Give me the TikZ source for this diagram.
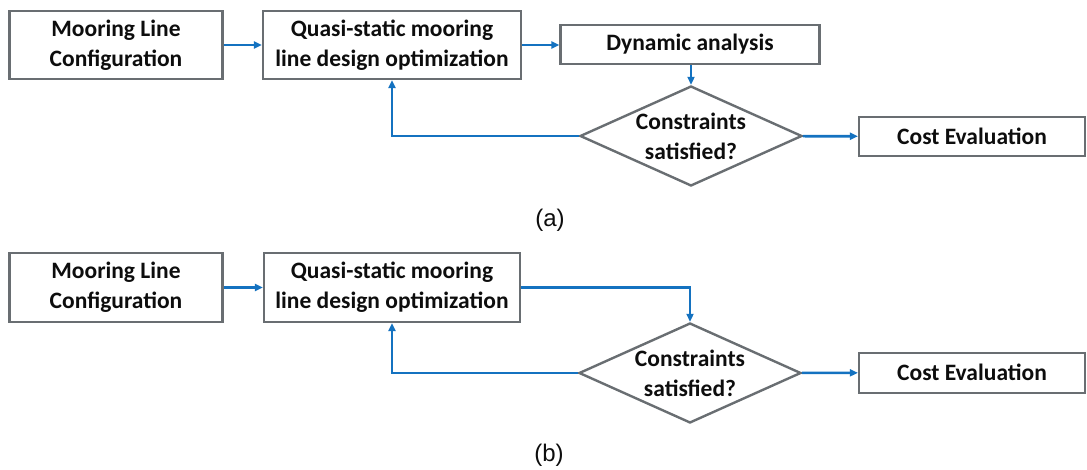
\documentclass[tikz,border=0pt]{standalone}
\usepackage{fontspec}
\setmainfont{Carlito}
\newfontfamily\capfont{Liberation Sans}
\usetikzlibrary{positioning, shapes.geometric, arrows.meta}
\definecolor{boxgray}{RGB}{105,110,114}
\definecolor{flowblue}{RGB}{20,114,192}
\begin{document}
\begin{tikzpicture}[
        x=1pt, y=-1pt,
        every node/.style={font=\fontsize{23.5}{30}\selectfont\bfseries, text=black!95},
        stepbox/.style={draw=boxgray, line width=2.2pt, fill=white, minimum height=68pt, align=center, inner sep=0pt},
        thinbox/.style={draw=boxgray, line width=2.2pt, fill=white, minimum height=39pt, align=center, inner sep=0pt},
        checkbox/.style={diamond, draw=boxgray, line width=2.4pt, fill=white, aspect=2.22, inner sep=0pt,
                         minimum width=222pt, minimum height=100pt, align=center},
        arrow/.style={-{Triangle[length=8pt, width=7pt]}, draw=flowblue, line width=2.6pt},
        caption/.style={font=\capfont\fontsize{24}{28}\selectfont}
    ]
    \useasboundingbox (0,0) rectangle (1087,470);

    % (a) with dynamic analysis
    \node[stepbox, minimum width=213pt] (confA) at (116,45) {Mooring Line\\Configuration};
    \node[stepbox, minimum width=258pt] (quasiA) at (392,45) {Quasi-static mooring\\line design optimization};
    \node[thinbox, minimum width=259pt] (dynA) at (690,44.5) {Dynamic analysis};
    \node[checkbox] (checkA) at (691,136) {Constraints\\satisfied?};
    \node[thinbox, minimum width=226pt] (costA) at (972,136.5) {Cost Evaluation};
    \node[caption] (capA) at (550,220) {(a)};

    \draw[arrow] (confA) -- (quasiA);
    \draw[arrow] (quasiA) -- (dynA.west |- quasiA);
    \draw[arrow] (dynA.south -| checkA) -- (checkA);
    \draw[arrow] (checkA) -- (costA);
    \draw[arrow] (checkA.west) -| (quasiA.south);

    % (b) without dynamic analysis
    \node[stepbox, minimum width=213pt, minimum height=69pt] (confB) at (116,287.5) {Mooring Line\\Configuration};
    \node[stepbox, minimum width=256pt, minimum height=69pt] (quasiB) at (392,287.5) {Quasi-static mooring\\line design optimization};
    \node[checkbox] (checkB) at (690,373) {Constraints\\satisfied?};
    \node[thinbox, minimum width=226pt, minimum height=40pt] (costB) at (972,372.7) {Cost Evaluation};
    \node[caption] (capB) at (549,455) {(b)};

    \draw[arrow] (confB) -- (quasiB);
    \draw[arrow] (quasiB.east) -| (checkB.north);
    \draw[arrow] (checkB) -- (costB);
    \draw[arrow] (checkB.west) -| (quasiB.south);

\end{tikzpicture}
\end{document}
